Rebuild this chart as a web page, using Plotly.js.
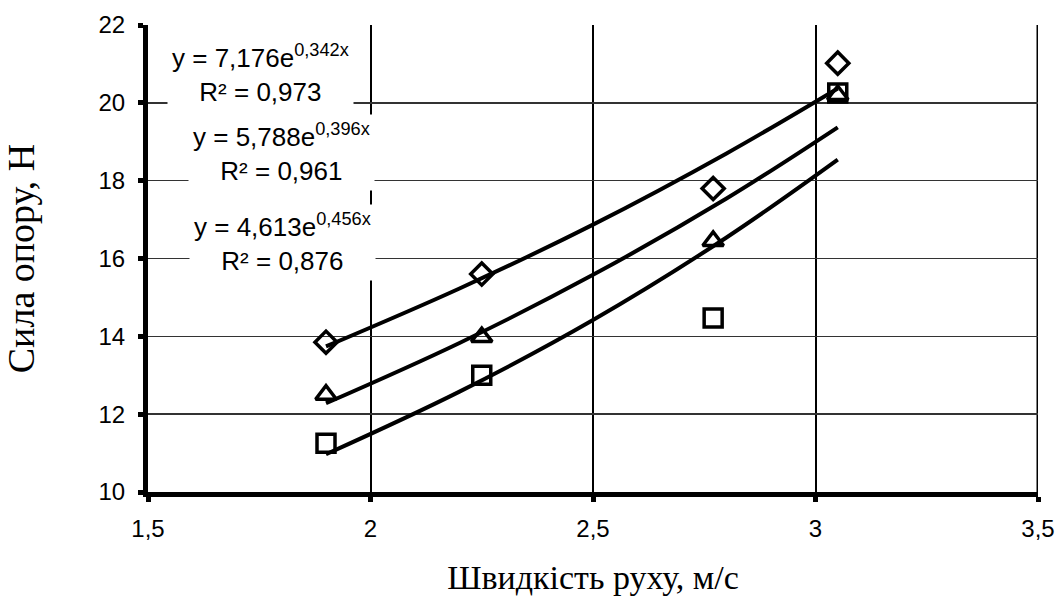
<!DOCTYPE html>
<html>
<head>
<meta charset="utf-8">
<script src="https://cdn.plot.ly/plotly-3.0.1.min.js"></script>
<style>html,body{margin:0;padding:0;background:#fff}#chart{width:1058px;height:596px}</style>
</head>
<body>
<div id="chart"></div>
<script>
// Measured points
const speed = [1.9, 2.25, 2.77, 3.05];
const forceDiamond = [13.85, 15.6, 17.8, 21.02];
const forceTriangle = [12.5, 13.98, 16.45, 20.2];
const forceSquare = [11.25, 13.0, 14.47, 20.25];

// Trend curves
const trendX = [1.9, 2.2, 2.5, 2.8, 3.05];
const trendDiamond = [13.74, 15.23, 16.87, 18.70, 20.37];
const trendTriangle = [12.28, 13.83, 15.58, 17.54, 19.37];
const trendSquare = [10.97, 12.58, 14.42, 16.54, 18.54];

// Equation labels
const eqText = [
  'y = 7,176e<sup>0,342x</sup><br>R² = 0,973',
  'y = 5,788e<sup>0,396x</sup><br>R² = 0,961',
  'y = 4,613e<sup>0,456x</sup><br>R² = 0,876'
];
const eqX = [1.752, 1.800, 1.803];
const eqY = [20.75, 18.72, 16.42];

const xTicks = [1.5, 2, 2.5, 3, 3.5];
const xTickText = ['1,5', '2', '2,5', '3', '3,5'];
const yTicks = [10, 12, 14, 16, 18, 20, 22];
const yTickText = ['10', '12', '14', '16', '18', '20', '22'];

const sans = 'Liberation Sans, Arial, sans-serif';
const serif = 'Liberation Serif, Times New Roman, serif';

const lineStyle = {color: '#000', width: 4, shape: 'spline'};
const traces = [
  {x: trendX, y: trendDiamond, mode: 'lines', line: lineStyle, hoverinfo: 'skip'},
  {x: trendX, y: trendTriangle, mode: 'lines', line: lineStyle, hoverinfo: 'skip'},
  {x: trendX, y: trendSquare, mode: 'lines', line: lineStyle, hoverinfo: 'skip'},
  {x: speed, y: forceDiamond, mode: 'markers',
   marker: {symbol: 'diamond-open', size: 17, color: '#000', line: {width: 3.5, color: '#000'}}},
  {x: speed, y: forceTriangle, mode: 'markers',
   marker: {symbol: 'triangle-up-open', size: 18, color: '#000', line: {width: 3.5, color: '#000'}}},
  {x: speed, y: forceSquare, mode: 'markers',
   marker: {symbol: 'square-open', size: 18, color: '#000', line: {width: 3.5, color: '#000'}}}
];

const annotations = eqText.map((t, i) => ({
  x: eqX[i], y: eqY[i], xref: 'x', yref: 'y', text: t, showarrow: false,
  bgcolor: '#fff', borderpad: 4, align: 'center',
  font: {family: sans, size: 26, color: '#000'}
}));

const layout = {
  width: 1058, height: 596,
  margin: {l: 148, r: 20, t: 25, b: 104},
  paper_bgcolor: '#fff', plot_bgcolor: '#fff',
  showlegend: false,
  font: {family: sans, size: 24, color: '#000'},
  xaxis: {
    range: [1.5, 3.5], tickmode: 'array', tickvals: xTicks, ticktext: xTickText,
    showgrid: true, gridcolor: '#000', gridwidth: 2,
    showline: true, linecolor: '#000', linewidth: 5,
    ticks: 'outside', ticklen: 5, tickwidth: 5, tickcolor: '#000',
    ticklabelstandoff: 6,
    zeroline: false,
    tickfont: {family: sans, size: 24, color: '#000'},
    title: {text: 'Швидкість руху, м/с', standoff: 27,
            font: {family: serif, size: 34, color: '#000'}}
  },
  yaxis: {
    range: [10, 22], tickmode: 'array', tickvals: yTicks, ticktext: yTickText,
    showgrid: true, gridcolor: '#333', gridwidth: 1.5,
    showline: true, linecolor: '#000', linewidth: 5,
    ticks: 'outside', ticklen: 5, tickwidth: 5, tickcolor: '#000',
    ticklabelstandoff: 8,
    zeroline: false,
    tickfont: {family: sans, size: 24, color: '#000'},
    title: {text: 'Сила опору, Н', standoff: 54,
            font: {family: serif, size: 38, color: '#000'}}
  },
  shapes: [
    {type: 'line', xref: 'x', yref: 'y', x0: 3.5, x1: 3.5, y0: 10, y1: 22, line: {color: '#000', width: 3}, layer: 'below'}
  ],
  annotations: annotations
};

Plotly.newPlot('chart', traces, layout, {displayModeBar: false, staticPlot: true});
</script>
</body>
</html>
